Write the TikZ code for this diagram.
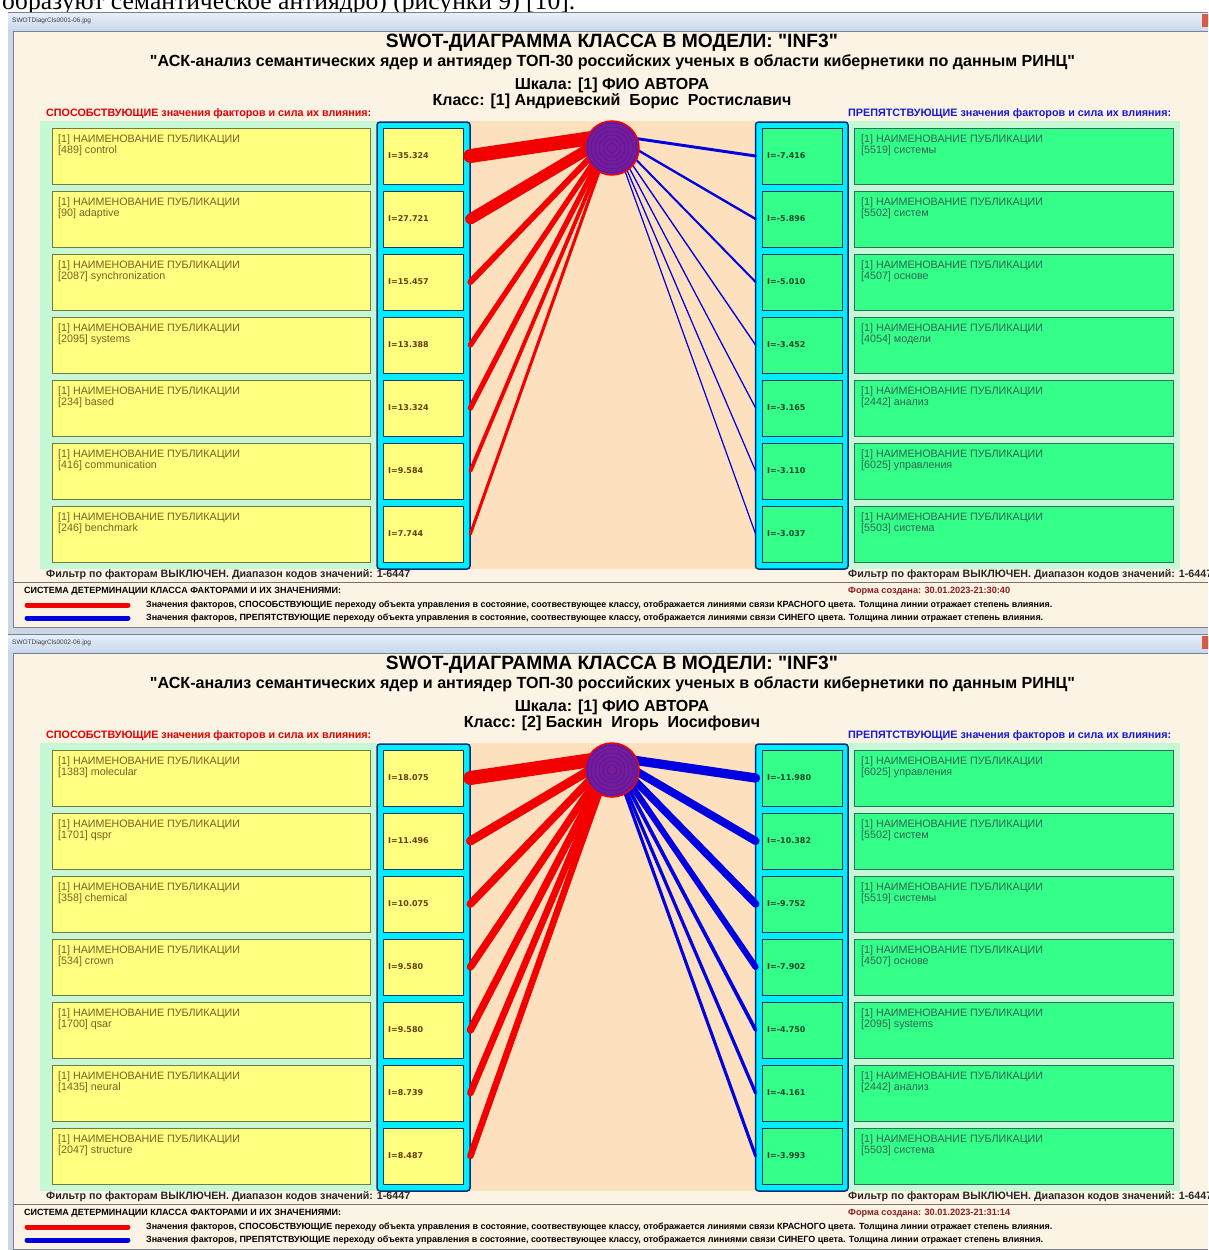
\documentclass[tikz,border=0pt]{standalone}
\usepackage{fontspec}
\usepackage{graphicx}
\setmainfont{Liberation Sans}
\newfontfamily\serifru{Liberation Serif}
\newfontfamily\dvs{DejaVu Sans}
\definecolor{beige}{RGB}{251,243,228}
\definecolor{peach}{RGB}{253,224,190}
\definecolor{palegreen}{RGB}{198,248,214}
\definecolor{ybox}{RGB}{255,255,128}
\definecolor{yborder}{RGB}{120,120,70}
\definecolor{gbox}{RGB}{52,255,136}
\definecolor{gborder}{RGB}{50,110,95}
\definecolor{vborder}{RGB}{25,55,95}
\definecolor{cyanc}{RGB}{0,236,255}
\definecolor{cyanborder}{RGB}{10,45,120}
\definecolor{redl}{RGB}{245,0,0}
\definecolor{bluel}{RGB}{0,0,225}
\definecolor{ytext}{RGB}{125,95,35}
\definecolor{gtext}{RGB}{50,100,85}
\definecolor{vytext}{RGB}{105,60,10}
\definecolor{vgtext}{RGB}{20,70,45}
\definecolor{labred}{RGB}{230,0,0}
\definecolor{labblue}{RGB}{25,25,215}
\definecolor{datered}{RGB}{140,30,30}
\definecolor{framec}{RGB}{205,214,226}
\definecolor{framed}{RGB}{120,130,145}
\definecolor{tbar1}{RGB}{232,240,250}
\definecolor{tbar2}{RGB}{200,216,236}
\definecolor{purp}{RGB}{112,30,160}
\definecolor{closered}{RGB}{215,90,70}
\tikzset{
  bigy/.style={rectangle, draw=yborder, fill=ybox, line width=0.8pt, minimum width=318pt, minimum height=56pt, inner sep=0},
  bigg/.style={rectangle, draw=gborder, fill=gbox, line width=0.8pt, minimum width=319pt, minimum height=56pt, inner sep=0},
  valy/.style={rectangle, draw=vborder, fill=ybox, line width=0.8pt, minimum width=80pt, minimum height=56pt, inner sep=0},
  valg/.style={rectangle, draw=vborder, fill=gbox, line width=0.8pt, minimum width=80pt, minimum height=56pt, inner sep=0},
  ytxt/.style={anchor=base west, inner sep=0, text=ytext, font=\fontsize{10.7}{12}\selectfont},
  gtxt/.style={anchor=base west, inner sep=0, text=gtext, font=\fontsize{10.7}{12}\selectfont},
  vytxt/.style={anchor=west, inner sep=0, text=vytext, font=\dvs\bfseries\fontsize{8}{9}\selectfont},
  vgtxt/.style={anchor=west, inner sep=0, text=vgtext, font=\dvs\bfseries\fontsize{8}{9}\selectfont},
  hdr/.style={inner sep=0, font=\bfseries},
  colbox/.style={draw=cyanborder, fill=cyanc, line width=1.5pt, rounded corners=3pt},
  redlink/.style={redl, line cap=round},
  bluelink/.style={bluel, line cap=round},
}
\newcommand\qd{\XeTeXglyph\XeTeXcharglyph"22\relax}
\newcommand\drawpanel[8]{%
\begin{scope}[yshift=-#2pt]
  % window frame and title bar
  \fill[framec] (8,12) rectangle (1208,634);
  \shade[top color=tbar1, bottom color=tbar2] (8,12) rectangle (1208,30);
  \draw[framed, line width=0.6pt] (8,12.3) -- (1208,12.3);
  \node[anchor=west, inner sep=0, text=black!75, font=\fontsize{6.5}{7}\selectfont] (#1win) at (12,21) {#3};
  \fill[closered] (1202,14) rectangle (1212,27);
  \fill[beige] (14,32) rectangle (1208,627);
  \draw[framed, line width=0.8pt] (13.5,627.5) -- (13.5,31.5) -- (1208,31.5);
  \draw[framed, line width=0.8pt] (13.5,627.5) -- (1208,627.5);
  % headers
  \node[hdr] (#1h1) at (612,43) {\resizebox{452pt}{!}{SWOT-ДИАГРАММА КЛАССА В МОДЕЛИ: \qd INF3\qd}};
  \node[hdr] (#1h2) at (612.5,62) {\resizebox{925pt}{!}{\qd АСК-анализ семантических ядер и антиядер ТОП-30 российских ученых в области кибернетики по данным РИНЦ\qd}};
  \node[hdr, font=\bfseries\fontsize{16}{18}\selectfont] (#1h3) at (612,85) {Шкала: [1] ФИО АВТОРА};
  \node[hdr, font=\bfseries\fontsize{16}{18}\selectfont] (#1h4) at (612,101) {#4};
  \node[anchor=west, inner sep=0, text=labred, font=\bfseries] (#1lab1) at (46,114) {\resizebox{325pt}{!}{СПОСОБСТВУЮЩИЕ значения факторов и сила их влияния:}};
  \node[anchor=west, inner sep=0, text=labblue, font=\bfseries] (#1lab2) at (848,114) {\resizebox{323pt}{!}{ПРЕПЯТСТВУЮЩИЕ значения факторов и сила их влияния:}};
  % backgrounds
  \fill[palegreen] (40,121) rectangle (378,569);
  \fill[peach] (470,121) rectangle (756,569);
  \fill[palegreen] (847,121) rectangle (1180,569);
  \draw[colbox] (377,122) rectangle (470,569);
  \draw[colbox] (755.5,122) rectangle (848,569);
  \coordinate (#1aim) at (612,135);
  % left (promoting) factors
  \foreach \ri/\rc/\rt/\rv in {#7}{%
    \pgfmathsetmacro\yc{156+(\ri-1)*63}
    \pgfmathsetmacro\lw{abs(\rv)/#6*14}
    \node[bigy] (#1LT\ri) at (211,\yc) {};
    \node[ytxt] (#1LA\ri) at (58,{\yc-14}) {[1] НАИМЕНОВАНИЕ ПУБЛИКАЦИИ};
    \node[ytxt] (#1LB\ri) at (58,{\yc-2.5}) {[\rc] \rt};
    \node[valy] (#1L\ri) at (423,\yc) {};
    \node[vytxt] (#1LV\ri) at (388,\yc) {I=\rv};
    \draw[redlink, line width=\lw pt] ([xshift=7pt]#1L\ri.east) -- (#1aim);
  }
  % right (hindering) factors
  \foreach \ri/\rc/\rt/\rv in {#8}{%
    \pgfmathsetmacro\yc{156+(\ri-1)*63}
    \pgfmathsetmacro\lw{abs(\rv)/#6*14}
    \node[bigg] (#1RT\ri) at (1013.5,\yc) {};
    \node[gtxt] (#1RA\ri) at (861,{\yc-14}) {[1] НАИМЕНОВАНИЕ ПУБЛИКАЦИИ};
    \node[gtxt] (#1RB\ri) at (861,{\yc-2.5}) {[\rc] \rt};
    \node[valg] (#1R\ri) at (802,\yc) {};
    \node[vgtxt] (#1RV\ri) at (767,\yc) {I=\rv};
    \draw[bluelink, line width=\lw pt] ([xshift=-6pt]#1R\ri.west) -- (#1aim);
  }
  % class circle
  \node[circle, fill=purp, draw=redl, line width=1.5pt, minimum size=54pt, inner sep=0] (#1c) at (612,148) {};
  \foreach \rr in {3,7,11,15,19,23}
    \draw[red!85!black, opacity=0.25, line width=0.7pt] (#1c.center) circle[radius=\rr pt];
  \foreach \rr in {5,9,13,17,21,25}
    \draw[blue!85!black, opacity=0.25, line width=0.7pt] (#1c.center) circle[radius=\rr pt];
  % footer
  \node[anchor=west, inner sep=0, text=black!85, font=\bfseries] (#1f1) at (46,575) {\resizebox{364pt}{!}{Фильтр по факторам ВЫКЛЮЧЕН. Диапазон кодов значений: 1-6447}};
  \node[anchor=west, inner sep=0, text=black!85, font=\bfseries] (#1f2) at (848,575) {\resizebox{364pt}{!}{Фильтр по факторам ВЫКЛЮЧЕН. Диапазон кодов значений: 1-6447}};
  \draw[black!55, line width=1pt] (14,582) -- (1208,582);
  \node[anchor=west, inner sep=0, text=black, font=\bfseries] (#1s1) at (24,591.5) {\resizebox{317pt}{!}{СИСТЕМА ДЕТЕРМИНАЦИИ КЛАССА ФАКТОРАМИ И ИХ ЗНАЧЕНИЯМИ:}};
  \node[anchor=west, inner sep=0, text=datered, font=\bfseries] (#1d) at (848,591.5) {\resizebox{162pt}{!}{Форма создана: #5}};
  \draw[redl, line width=5pt, line cap=round] (27,605) -- (128,605);
  \draw[bluel, line width=5pt, line cap=round] (27,618) -- (128,618);
  \node[anchor=west, inner sep=0, text=black, font=\bfseries] (#1g1) at (146,605) {\resizebox{906pt}{!}{Значения факторов, СПОСОБСТВУЮЩИЕ переходу объекта управления в состояние, соотвествующее классу, отображается линиями связи КРАСНОГО цвета. Толщина линии отражает степень влияния.}};
  \node[anchor=west, inner sep=0, text=black, font=\bfseries] (#1g2) at (146,618) {\resizebox{897pt}{!}{Значения факторов, ПРЕПЯТСТВУЮЩИЕ переходу объекта управления в состояние, соотвествующее классу, отображается линиями связи СИНЕГО цвета. Толщина линии отражает степень влияния.}};
\end{scope}}
\begin{document}
\begin{tikzpicture}[x=1pt,y=-1pt]
  \useasboundingbox (0,0) rectangle (1208,1250);
  \clip (0,0) rectangle (1208,1250);
  \fill[white] (0,0) rectangle (1208,1250);
  \node[anchor=base west, inner sep=0, font=\serifru] (toptext) at (2,9.5) {\resizebox{573pt}{!}{образуют семантическое антиядро) (рисунки 9) [10].}};
  \drawpanel{A}{0}{SWOTDiagrCls0001-06.jpg}{Класс: [1] Андриевский\ \ Борис\ \ Ростиславич}{30.01.2023-21:30:40}{35.324}%
    {1/489/control/35.324, 2/90/adaptive/27.721, 3/2087/synchronization/15.457, 4/2095/systems/13.388, 5/234/based/13.324, 6/416/communication/9.584, 7/246/benchmark/7.744}%
    {1/5519/системы/-7.416, 2/5502/систем/-5.896, 3/4507/основе/-5.010, 4/4054/модели/-3.452, 5/2442/анализ/-3.165, 6/6025/управления/-3.110, 7/5503/система/-3.037}
  \drawpanel{B}{622}{SWOTDiagrCls0002-06.jpg}{Класс: [2] Баскин\ \ Игорь\ \ Иосифович}{30.01.2023-21:31:14}{18.075}%
    {1/1383/molecular/18.075, 2/1701/qspr/11.496, 3/358/chemical/10.075, 4/534/crown/9.580, 5/1700/qsar/9.580, 6/1435/neural/8.739, 7/2047/structure/8.487}%
    {1/6025/управления/-11.980, 2/5502/систем/-10.382, 3/5519/системы/-9.752, 4/4507/основе/-7.902, 5/2095/systems/-4.750, 6/2442/анализ/-4.161, 7/5503/система/-3.993}
\end{tikzpicture}
\end{document}
